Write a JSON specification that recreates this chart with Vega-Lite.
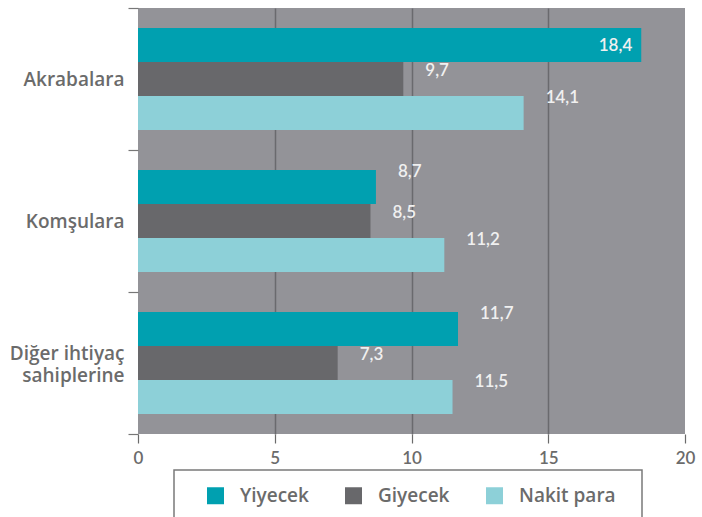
{
  "$schema": "https://vega.github.io/schema/vega-lite/v6.json",
  "width": 547,
  "height": 426,
  "autosize": "none",
  "padding": {"left": 138, "top": 8, "right": 17, "bottom": 83},
  "background": "white",
  "config": {
    "view": {"fill": "#939398", "stroke": null},
    "font": "Lato",
    "legend": {"strokeColor": "#7a7a7a", "strokeWidth": 1.5},
    "locale": {"number": {"decimal": ",", "thousands": ".", "grouping": [3], "currency": ["", " TL"]}}
  },
  "data": {
    "values": [
      {"grup": "Akrabalara", "tur": "Yiyecek", "deger": 18.4},
      {"grup": "Akrabalara", "tur": "Giyecek", "deger": 9.7},
      {"grup": "Akrabalara", "tur": "Nakit para", "deger": 14.1},
      {"grup": "Komşulara", "tur": "Yiyecek", "deger": 8.7},
      {"grup": "Komşulara", "tur": "Giyecek", "deger": 8.5},
      {"grup": "Komşulara", "tur": "Nakit para", "deger": 11.2},
      {"grup": "Diğer ihtiyaç sahiplerine", "tur": "Yiyecek", "deger": 11.7},
      {"grup": "Diğer ihtiyaç sahiplerine", "tur": "Giyecek", "deger": 7.3},
      {"grup": "Diğer ihtiyaç sahiplerine", "tur": "Nakit para", "deger": 11.5}
    ]
  },
  "encoding": {
    "y": {
      "field": "grup", "type": "nominal",
      "sort": ["Akrabalara", "Komşulara", "Diğer ihtiyaç sahiplerine"],
      "scale": {"paddingInner": 0, "paddingOuter": 0},
      "axis": {
        "title": null, "domain": false, "grid": false, "tickBand": "extent",
        "tickSize": 10, "tickColor": "#777777", "tickWidth": 1.2,
        "labelPadding": 4, "labelFont": "Open Sans", "labelFontSize": 19, "labelFontWeight": 600,
        "labelColor": "#6b6b6b", "labelLineHeight": 22,
        "labelOffset": {"condition": {"test": "datum.value == 'Diğer ihtiyaç sahiplerine'", "value": -10}, "value": 0},
        "labelExpr": "datum.value == 'Diğer ihtiyaç sahiplerine' ? ['Diğer ihtiyaç', 'sahiplerine'] : datum.value"
      }
    },
    "yOffset": {
      "field": "tur", "type": "nominal",
      "sort": ["Yiyecek", "Giyecek", "Nakit para"],
      "scale": {"paddingInner": 0, "paddingOuter": 0.59}
    },
    "x": {
      "field": "deger", "type": "quantitative",
      "scale": {"domain": [0, 20], "nice": false},
      "axis": {
        "title": null, "values": [0, 5, 10, 15, 20], "format": "d", "domain": false,
        "tickSize": 9, "tickColor": "#6b6b6b", "tickWidth": 1.2,
        "labelFontSize": 17, "labelFontWeight": 600, "labelColor": "#6b6b6b",
        "labelPadding": 7, "labelFlush": false,
        "grid": true, "gridWidth": 1.5,
        "gridColor": {"condition": {"test": "datum.value == 0 || datum.value == 20", "value": "transparent"}, "value": "#6a6a6e"}
      }
    }
  },
  "layer": [
    {
      "mark": {"type": "bar"},
      "encoding": {
        "color": {
          "field": "tur", "type": "nominal",
          "sort": ["Yiyecek", "Giyecek", "Nakit para"],
          "scale": {"domain": ["Yiyecek", "Giyecek", "Nakit para"], "range": ["#00a0b0", "#68686b", "#8dd0d8"]},
          "legend": {
            "title": "\u00a0", "titleOrient": "right", "titleFontSize": 10, "titlePadding": 10,
            "orient": "none", "legendX": 36, "legendY": 462, "direction": "horizontal",
            "padding": 16,
            "symbolType": "square", "symbolSize": 289, "symbolStrokeWidth": 0, "symbolOpacity": 1,
            "symbolOffset": 16, "labelOffset": 15,
            "labelFont": "Open Sans", "labelFontSize": 19, "labelFontWeight": 600, "labelColor": "#6b6b6b",
            "columnPadding": 19
          }
        }
      }
    },
    {
      "transform": [{"filter": "datum.tur == 'Giyecek'"}],
      "mark": {"type": "text", "align": "left", "baseline": "middle", "dx": 22, "dy": -8, "fontSize": 17, "fontWeight": 600, "color": "#f0f0f0"},
      "encoding": {"text": {"field": "deger", "type": "quantitative", "format": ".1f"}}
    },
    {
      "transform": [{"filter": "datum.tur != 'Giyecek' && datum.deger < 17"}],
      "mark": {"type": "text", "align": "left", "baseline": "middle", "dx": 22, "dy": -15, "fontSize": 17, "fontWeight": 600, "color": "#f0f0f0"},
      "encoding": {"text": {"field": "deger", "type": "quantitative", "format": ".1f"}}
    },
    {
      "transform": [{"filter": "datum.deger >= 17"}],
      "mark": {"type": "text", "align": "right", "baseline": "middle", "dx": -9, "dy": 1, "fontSize": 17, "fontWeight": 600, "color": "#f0f0f0"},
      "encoding": {"text": {"field": "deger", "type": "quantitative", "format": ".1f"}}
    }
  ]
}
